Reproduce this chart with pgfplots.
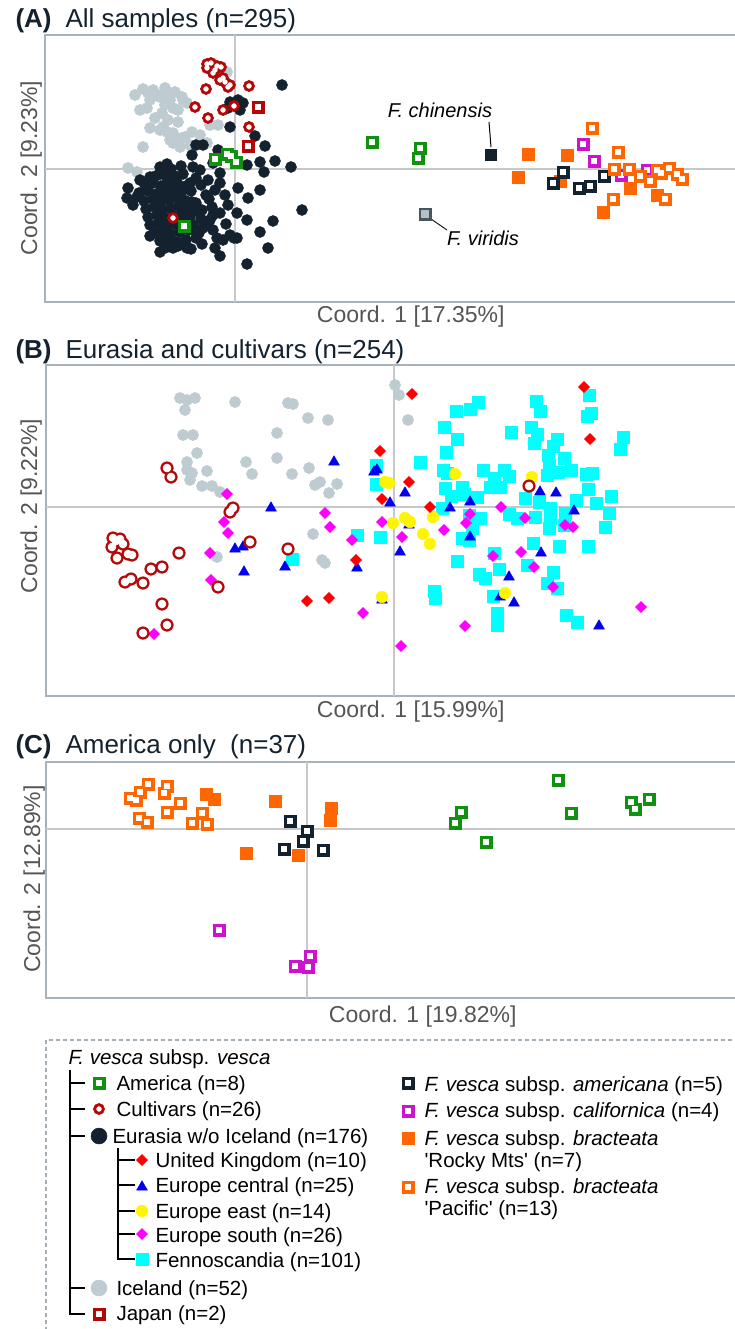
\documentclass[border=0pt]{standalone}
\usepackage{fontspec}
\setmainfont{Liberation Sans}
\usepackage{pgfplots}
\usepackage{pgfplotstable}
\pgfplotsset{compat=1.18}
\definecolor{cDark}{RGB}{19,34,46}
\definecolor{cIce}{RGB}{190,203,209}
\definecolor{cCult}{RGB}{180,8,8}
\definecolor{cGreen}{RGB}{16,145,16}
\definecolor{cOrange}{RGB}{255,102,0}
\definecolor{cCal}{RGB}{204,20,204}
\definecolor{cUK}{RGB}{255,0,0}
\definecolor{cBlue}{RGB}{0,0,238}
\definecolor{cYellow}{RGB}{255,245,0}
\definecolor{cSouth}{RGB}{255,0,255}
\definecolor{cCyan}{RGB}{0,255,255}
\definecolor{cFrame}{RGB}{168,178,186}
\definecolor{cZero}{RGB}{200,200,200}
\definecolor{cLabel}{RGB}{85,85,85}
\definecolor{cVir}{RGB}{180,192,198}
\definecolor{cVirB}{RGB}{70,85,95}
\definecolor{cLeg}{RGB}{165,175,183}

% ----- open-marker series (x = horizontal, y = vertical, drawn with reversed y) -----
\pgfplotstableread[row sep=\\]{x y\\ 207 64\\ 207 68\\ 217 66\\ 221 67\\ 213 73\\ 220 80\\ 223 78\\ 230 85\\ 228 87\\ 249 86\\ 206 89\\ 195 107\\ 223 110\\ 234 106\\ 208 118\\ 249 127\\ 173 218\\ 211 63\\ 215 70\\ 225 82\\}\tCultA
\pgfplotstableread[row sep=\\]{x y\\ 258 107\\ 248 146\\}\tJapA
\pgfplotstableread[row sep=\\]{x y\\ 215 159\\ 227 154\\ 231 156\\ 236 162\\ 184 226\\ 372 142\\ 420 148\\ 418 158\\}\tAmA
\pgfplotstableread[row sep=\\]{x y\\ 563 172\\ 553 183\\ 579 188\\ 590 186\\ 604 176\\}\tAmerA
\pgfplotstableread[row sep=\\]{x y\\ 583 144\\ 594 161\\ 621 175\\ 647 170\\}\tCalA
\pgfplotstableread[row sep=\\]{x y\\ 592 128\\ 618 152\\ 614 169\\ 629 169\\ 640 176\\ 650 181\\ 661 173\\ 669 168\\ 677 174\\ 682 179\\ 613 199\\ 665 199\\ 657 170\\}\tPacA
\pgfplotstableread[row sep=\\]{x y\\ 425 214\\}\tVirA
\pgfplotstableread[row sep=\\]{x y\\ 167 468\\ 171 477\\ 233 508\\ 230 512\\ 250 542\\ 288 549\\ 113 538\\ 120 539\\ 123 544\\ 112 547\\ 132 555\\ 128 554\\ 117 558\\ 179 553\\ 151 569\\ 162 567\\ 125 582\\ 131 579\\ 143 583\\ 162 604\\ 167 625\\ 143 633\\ 218 587\\ 529 486\\ 116 541\\}\tCultB
\pgfplotstableread[row sep=\\]{x y\\ 148 784\\ 140 792\\ 130 798\\ 136 800\\ 167 786\\ 164 793\\ 180 803\\ 167 812\\ 139 818\\ 147 822\\ 192 823\\ 202 813\\ 207 824\\}\tPacC
\pgfplotstableread[row sep=\\]{x y\\ 290 821\\ 307 831\\ 303 841\\ 284 849\\ 323 850\\}\tAmerC
\pgfplotstableread[row sep=\\]{x y\\ 219 930\\ 310 956\\ 295 966\\ 308 967\\}\tCalC
\pgfplotstableread[row sep=\\]{x y\\ 558 780\\ 461 812\\ 455 823\\ 486 842\\ 571 813\\ 631 802\\ 635 809\\ 649 799\\}\tAmC

\pgfplotsset{
  panel/.style={scale only axis, anchor=north west, y dir=reverse,
    axis line style={cFrame, line width=2pt}, xtick=\empty, ytick=\empty, clip=false},
  zero/.style={cZero, line width=1.2pt, no marks},
  fillmk/.style={only marks, line width=0.5pt, mark options={draw=#1, fill=#1, line width=0.5pt}},
  sEur/.style={fillmk=cDark, mark=*, mark size=5.5pt},
  sIce/.style={fillmk=cIce, mark=*, mark size=5.6pt},
  sqOut/.style={fillmk=#1, mark=square*, mark size=6.2pt},
  sqIn/.style={fillmk=white, mark=square*, mark size=2.5pt},
  ringOut/.style={fillmk=cCult, mark=*, mark size=5.6pt},
  ringIn/.style={fillmk=white, mark=*, mark size=2.4pt},
  ringOutB/.style={fillmk=cCult, mark=*, mark size=6.3pt},
  ringInB/.style={fillmk=white, mark=*, mark size=4.0pt},
  sRocky/.style={fillmk=cOrange, mark=square*, mark size=6.2pt},
  sChin/.style={fillmk=cDark, mark=square*, mark size=5.5pt},
  sUK/.style={only marks, mark=square*, mark size=3.9pt, mark options={rotate=45, draw=cUK, fill=cUK, line width=0.5pt}},
  sSouth/.style={only marks, mark=square*, mark size=3.9pt, mark options={rotate=45, draw=cSouth, fill=cSouth, line width=0.5pt}},
  sCen/.style={fillmk=cBlue, mark=triangle*, mark size=6.2pt},
  sEast/.style={fillmk=cYellow, mark=*, mark size=5.8pt},
  sFen/.style={fillmk=cCyan, mark=square*, mark size=5.9pt},
}
\newcommand{\titlefont}{\fontsize{26}{30}\selectfont}
\newcommand{\labfont}{\fontsize{23}{26}\selectfont}
\newcommand{\legfont}{\fontsize{20.5}{23}\selectfont}
\begin{document}
\begin{tikzpicture}
\useasboundingbox (0pt,0pt) rectangle (734pt,-1329pt);

% ---------------- Panel A ----------------
\node[anchor=base west, text=cDark, font=\titlefont\bfseries] at (12pt,-28pt) {(A)};
\node[anchor=base west, text=cDark, font=\titlefont] at (62pt,-28pt) {All samples (n=295)};
\begin{axis}[panel, at={(45pt,-35pt)}, width=691pt, height=267pt,
  xmin=45, xmax=736, ymin=35, ymax=302]
\addplot[zero] coordinates {(235,35) (235,302)};
\addplot[zero] coordinates {(45,169) (736,169)};
\addplot[sIce] coordinates {(143,89)(153,90)(165,91)(175,92)(182,97)(160,97)(170,100)(147,108)(162,113)(173,108)(183,100)(187,103)(150,128)(163,127)(167,132)(173,133)(182,138)(192,132)(143,147)(180,147)(173,143)(128,168)(137,172)(207,143)(218,125)(227,72)(213,67)(135,95)(148,93)(158,96)(168,96)(150,100)(165,105)(178,110)(155,118)(168,120)(178,122)(160,130)(185,137)(190,145)(170,140)(210,125)(200,135)(222,70)(140,110)(165,88)};
\addplot[sEur] coordinates {(160,167)(171,169)(181,166)(200,170)(150,177)(158,175)(167,178)(175,176)(183,174)(196,178)(145,185)(153,183)(161,186)(169,184)(177,182)(186,186)(201,185)(139,193)(148,191)(156,194)(164,192)(172,190)(181,193)(191,191)(206,195)(144,201)(153,199)(161,202)(169,200)(177,198)(186,201)(196,203)(209,199)(146,209)(154,207)(163,210)(171,208)(179,206)(187,209)(197,211)(212,207)(148,217)(157,215)(165,218)(173,216)(181,214)(190,217)(201,219)(213,215)(150,225)(158,223)(167,226)(175,224)(183,222)(193,225)(206,223)(155,233)(163,231)(171,234)(180,232)(189,230)(199,233)(160,241)(168,239)(177,242)(186,240)(196,238)(165,248)(178,246)(191,249)
(282,85)(230,102)(243,103)(240,110)(255,136)(230,127)(265,146)(203,145)(192,155)(213,163)(220,173)(247,165)(260,162)(275,161)(291,167)(264,172)(193,167)(167,164)(162,173)(153,177)(238,188)(260,190)(248,198)(220,183)(190,183)(177,190)(128,188)(127,198)(137,197)(302,210)(273,221)(237,213)(247,220)(260,232)(234,238)(237,238)(268,248)(247,264)(220,256)(215,248)(202,244)(187,248)(173,248)(160,252)(220,213)(210,220)(202,210)(192,202)(213,230)(203,228)(223,240)(230,235)(225,195)(215,190)(228,205)(208,180)(226,224)(217,238)(140,180)(133,205)(150,236)(196,145)(218,150)(228,108)(238,100)};
\addplot[ringOut] table {\tCultA};
\addplot[ringIn] table {\tCultA};
\addplot[sqOut=cCult] table {\tJapA};
\addplot[sqIn] table {\tJapA};
\addplot[sqOut=cGreen] table {\tAmA};
\addplot[sqIn] table {\tAmA};
\addplot[sRocky] coordinates {(528,154)(567,155)(518,177)(560,181)(630,188)(603,212)(657,195)};
\addplot[sqOut=cDark] table {\tAmerA};
\addplot[sqIn] table {\tAmerA};
\addplot[sqOut=cCal] table {\tCalA};
\addplot[sqIn] table {\tCalA};
\addplot[sqOut=cOrange] table {\tPacA};
\addplot[sqIn] table {\tPacA};
\addplot[sChin] coordinates {(491,155)};
\addplot[fillmk=cVirB, mark=square*, mark size=6pt] table {\tVirA};
\addplot[fillmk=cVir, mark=square*, mark size=3.3pt] table {\tVirA};
\addplot[black, line width=1pt, no marks] coordinates {(489,122) (491,147)};
\addplot[cDark, line width=1pt, no marks] coordinates {(431,219) (447,230)};
\node[anchor=base, font=\fontsize{20}{24}\selectfont\itshape] at (axis cs:440,117) {F. chinensis};
\node[anchor=base, font=\fontsize{20}{24}\selectfont\itshape] at (axis cs:483,245) {F. viridis};
\end{axis}
\node[anchor=base east, text=cLabel, font=\labfont] at (508pt,-323pt) {Coord. 1 [17.35\%]};
\node[anchor=base, rotate=90, text=cLabel, font=\labfont] at (37pt,-168pt) {Coord. 2 [9.23\%]};

% ---------------- Panel B ----------------
\node[anchor=base west, text=cDark, font=\titlefont\bfseries] at (12pt,-358pt) {(B)};
\node[anchor=base west, text=cDark, font=\titlefont] at (62pt,-358pt) {Eurasia and cultivars (n=254)};
\begin{axis}[panel, at={(46pt,-365pt)}, width=690pt, height=331pt,
  xmin=46, xmax=736, ymin=365, ymax=696]
\addplot[zero] coordinates {(394,365) (394,696)};
\addplot[zero] coordinates {(46,507) (736,507)};
\addplot[sIce] coordinates {(180,398)(187,400)(195,398)(185,410)(235,402)(288,403)(293,404)(308,418)(328,420)(183,435)(193,435)(277,433)(197,453)(187,462)(187,470)(192,473)(190,480)(207,471)(246,462)(252,474)(277,458)(292,474)(309,468)(315,485)(320,482)(337,484)(329,493)(202,486)(212,486)(220,492)(313,534)(322,560)(325,563)(217,557)(395,385)(399,395)(408,420)};
\addplot[sFen] coordinates {(456,411)(470,409)(478,402)(444,427)(457,439)(446,452)(420,462)(443,470)(447,473)(445,488)(462,487)(464,494)(477,497)(376,465)(376,484)(380,537)(442,508)(469,515)(480,518)(472,528)(462,538)(469,540)(457,561)(479,574)(485,578)(499,569)(494,553)(434,591)(435,598)(493,596)(497,613)(497,625)(511,432)(531,427)(537,434)(534,443)(536,401)(540,411)(557,439)(553,446)(564,458)(549,465)(558,472)(547,475)(494,478)(500,487)(509,476)(490,487)(525,498)(539,502)(550,508)(550,518)(549,528)(564,525)(565,513)(535,517)(509,514)(517,518)(533,543)(527,565)(559,546)(553,572)(547,583)(557,588)(588,546)(605,527)(609,513)(596,503)(611,496)(576,500)(588,489)(586,474)(592,473)(589,395)(591,413)(587,416)(623,437)(620,449)(566,615)(577,622)(357,535)(292,559)(483,470)(504,470)(548,455)(571,470)(451,496)};
\addplot[sSouth] coordinates {(227,494)(224,522)(228,533)(210,553)(211,580)(154,634)(325,513)(330,527)(352,540)(363,613)(382,522)(402,537)(444,530)(466,523)(470,514)(501,507)(525,518)(493,556)(521,552)(534,567)(553,587)(565,525)(573,527)(641,607)(465,626)(401,646)};
\addplot[sCen] coordinates {(334,462)(271,508)(235,549)(243,547)(244,572)(285,567)(357,568)(374,472)(377,470)(405,493)(390,503)(409,525)(400,552)(450,508)(470,502)(470,537)(540,492)(556,493)(574,511)(541,553)(509,577)(500,597)(514,603)(599,626)(382,600)};
\addplot[sEast] coordinates {(385,482)(389,483)(455,474)(532,477)(393,523)(405,518)(410,522)(433,517)(423,534)(430,544)(505,593)(382,597)};
\addplot[sUK] coordinates {(356,560)(307,601)(329,598)(412,394)(380,451)(409,482)(382,499)(430,507)(584,387)(590,439)};
\addplot[ringOutB] table {\tCultB};
\addplot[ringInB] table {\tCultB};
\end{axis}
\node[anchor=base east, text=cLabel, font=\labfont] at (508pt,-717pt) {Coord. 1 [15.99\%]};
\node[anchor=base, rotate=90, text=cLabel, font=\labfont] at (37pt,-506pt) {Coord. 2 [9.22\%]};

% ---------------- Panel C ----------------
\node[anchor=base west, text=cDark, font=\titlefont\bfseries] at (12pt,-753pt) {(C)};
\node[anchor=base west, text=cDark, font=\titlefont] at (62pt,-753pt) {America only\ \ (n=37)};
\begin{axis}[panel, at={(46pt,-762pt)}, width=690pt, height=236pt,
  xmin=46, xmax=736, ymin=762, ymax=998]
\addplot[zero] coordinates {(307,762) (307,998)};
\addplot[zero] coordinates {(46,829) (736,829)};
\addplot[sqOut=cOrange] table {\tPacC};
\addplot[sqIn] table {\tPacC};
\addplot[sRocky] coordinates {(206,794)(214,799)(275,801)(331,808)(330,820)(246,853)(298,855)};
\addplot[sqOut=cDark] table {\tAmerC};
\addplot[sqIn] table {\tAmerC};
\addplot[sqOut=cCal] table {\tCalC};
\addplot[sqIn] table {\tCalC};
\addplot[sqOut=cGreen] table {\tAmC};
\addplot[sqIn] table {\tAmC};
\end{axis}
\node[anchor=base east, text=cLabel, font=\labfont] at (520pt,-1022pt) {Coord. 1 [19.82\%]};
\node[anchor=base, rotate=90, text=cLabel, font=\labfont] at (40pt,-879pt) {Coord. 2 [12.89\%]};

% ---------------- Legend ----------------
\begin{axis}[scale only axis, anchor=north west, at={(0pt,-1030pt)}, width=734pt, height=299pt,
  xmin=0, xmax=734, ymin=1030, ymax=1329, y dir=reverse, hide axis, clip=false]
\addplot[cLeg, line width=1.5pt, dash pattern=on 4pt off 3pt, no marks] coordinates {(46,1345) (46,1040) (745,1040)};
\addplot[black, line width=1.8pt, no marks] coordinates {(70,1070) (70,1314) (85,1314)};
\addplot[black, line width=1.8pt, no marks] coordinates {(70,1083) (85,1083)};
\addplot[black, line width=1.8pt, no marks] coordinates {(70,1109) (85,1109)};
\addplot[black, line width=1.8pt, no marks] coordinates {(70,1136) (85,1136)};
\addplot[black, line width=1.8pt, no marks] coordinates {(70,1288) (85,1288)};
\addplot[black, line width=1.8pt, no marks] coordinates {(118,1148) (118,1259) (135,1259)};
\addplot[black, line width=1.8pt, no marks] coordinates {(118,1160) (135,1160)};
\addplot[black, line width=1.8pt, no marks] coordinates {(118,1185) (135,1185)};
\addplot[black, line width=1.8pt, no marks] coordinates {(118,1211) (135,1211)};
\addplot[black, line width=1.8pt, no marks] coordinates {(118,1234) (135,1234)};
\addplot[sqOut=cGreen] coordinates {(99,1083)};
\addplot[sqIn] coordinates {(99,1083)};
\addplot[ringOut] coordinates {(99,1109)};
\addplot[ringIn] coordinates {(99,1109)};
\addplot[fillmk=cDark, mark=*, mark size=8pt] coordinates {(99,1136)};
\addplot[sUK] coordinates {(142,1160)};
\addplot[sCen] coordinates {(142,1187)};
\addplot[sEast] coordinates {(142,1211)};
\addplot[sSouth] coordinates {(142,1234)};
\addplot[sFen] coordinates {(142,1259)};
\addplot[fillmk=cIce, mark=*, mark size=8pt] coordinates {(99,1288)};
\addplot[sqOut=cCult] coordinates {(99,1314)};
\addplot[sqIn] coordinates {(99,1314)};
\addplot[sqOut=cDark] coordinates {(408,1083)};
\addplot[sqIn] coordinates {(408,1083)};
\addplot[sqOut=cCal] coordinates {(408,1111)};
\addplot[sqIn] coordinates {(408,1111)};
\addplot[sRocky] coordinates {(408,1138)};
\addplot[sqOut=cOrange] coordinates {(408,1187)};
\addplot[sqIn] coordinates {(408,1187)};
\end{axis}
\begin{scope}[font=\legfont]
\node[anchor=base west] at (65pt,-1064pt) {\textit{F. vesca} subsp. \textit{vesca}};
\node[anchor=base west] at (113pt,-1090pt) {America (n=8)};
\node[anchor=base west] at (113pt,-1116pt) {Cultivars (n=26)};
\node[anchor=base west] at (109pt,-1143pt) {Eurasia w/o Iceland (n=176)};
\node[anchor=base west] at (152pt,-1167pt) {United Kingdom (n=10)};
\node[anchor=base west] at (152pt,-1192pt) {Europe central (n=25)};
\node[anchor=base west] at (152pt,-1218pt) {Europe east (n=14)};
\node[anchor=base west] at (152pt,-1242pt) {Europe south (n=26)};
\node[anchor=base west] at (152pt,-1267pt) {Fennoscandia (n=101)};
\node[anchor=base west] at (113pt,-1295pt) {Iceland (n=52)};
\node[anchor=base west] at (113pt,-1320pt) {Japan (n=2)};
\node[anchor=base west] at (421pt,-1091pt) {\textit{F. vesca} subsp. \textit{americana} (n=5)};
\node[anchor=base west] at (421pt,-1117pt) {\textit{F. vesca} subsp. \textit{californica} (n=4)};
\node[anchor=base west] at (421pt,-1145pt) {\textit{F. vesca} subsp. \textit{bracteata}};
\node[anchor=base west] at (421pt,-1167pt) {\textquotesingle Rocky Mts\textquotesingle{} (n=7)};
\node[anchor=base west] at (421pt,-1193pt) {\textit{F. vesca} subsp. \textit{bracteata}};
\node[anchor=base west] at (421pt,-1215pt) {\textquotesingle Pacific\textquotesingle{} (n=13)};
\end{scope}
\end{tikzpicture}
\end{document}
